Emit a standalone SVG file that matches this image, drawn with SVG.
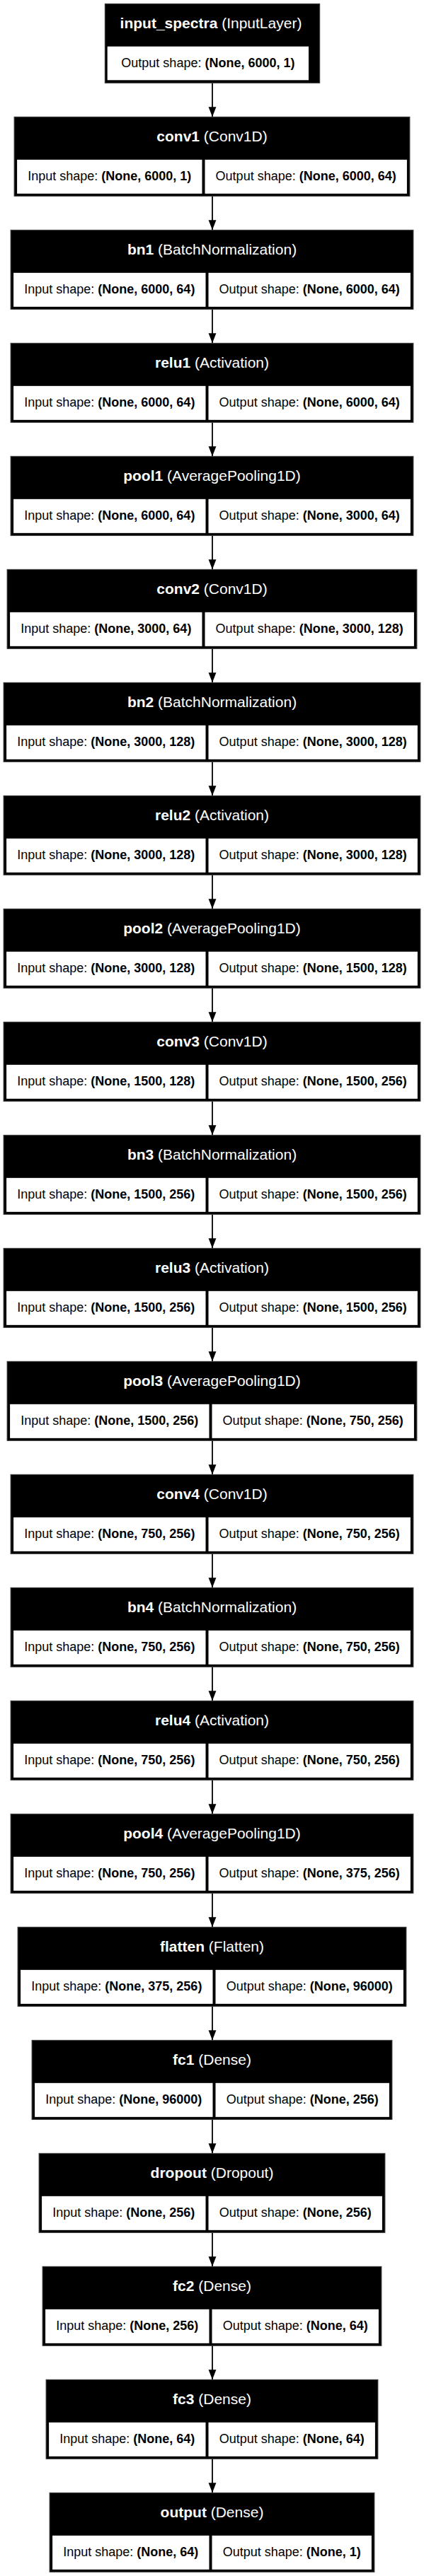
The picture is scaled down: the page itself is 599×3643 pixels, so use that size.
<svg xmlns="http://www.w3.org/2000/svg" width="599" height="3643" viewBox="0 0 599 3643">
<style>
.bg{fill:#fff}
.box{fill:#000;stroke:#3a3a3a;stroke-width:1}
.cell{fill:#fff}
text{font-family:"Liberation Sans",Arial,sans-serif}
.hd{font-size:21px;fill:#fff;text-anchor:middle}
.tx{font-size:18px;fill:#000;text-anchor:middle}
.b{font-weight:bold}
.edge{stroke:#000;stroke-width:1.8;fill:none;marker-end:url(#ah)}
</style>
<defs>
<marker id="ah" viewBox="0 0 14 12" refX="14" refY="6" markerWidth="14" markerHeight="12" markerUnits="userSpaceOnUse" orient="auto">
<path d="M0,0.6 L14,6 L0,11.4 z" fill="#000"/>
</marker>
</defs>
<rect class="bg" x="0" y="0" width="599" height="3643"/>

<g id="edges">
<path class="edge" d="M300,117.33 V165.33"/>
<path class="edge" d="M300,277.33 V325.33"/>
<path class="edge" d="M300,437.33 V485.33"/>
<path class="edge" d="M300,597.33 V645.33"/>
<path class="edge" d="M300,757.33 V805.33"/>
<path class="edge" d="M300,917.33 V965.33"/>
<path class="edge" d="M300,1077.33 V1125.33"/>
<path class="edge" d="M300,1237.33 V1285.33"/>
<path class="edge" d="M300,1397.33 V1445.33"/>
<path class="edge" d="M300,1557.33 V1605.33"/>
<path class="edge" d="M300,1717.33 V1765.33"/>
<path class="edge" d="M300,1877.33 V1925.33"/>
<path class="edge" d="M300,2037.33 V2085.33"/>
<path class="edge" d="M300,2197.33 V2245.33"/>
<path class="edge" d="M300,2357.33 V2405.33"/>
<path class="edge" d="M300,2517.33 V2565.33"/>
<path class="edge" d="M300,2677.33 V2725.33"/>
<path class="edge" d="M300,2837.33 V2885.33"/>
<path class="edge" d="M300,2997.33 V3045.33"/>
<path class="edge" d="M300,3157.33 V3205.33"/>
<path class="edge" d="M300,3317.33 V3365.33"/>
<path class="edge" d="M300,3477.33 V3525.33"/>
</g>

<g id="input_spectra" transform="translate(0,5.33)">
<rect class="box" x="148.3" y="0" width="303.4" height="112"/>
<rect class="cell" x="151.7" y="60.4" width="284.3" height="47.6"/>
<text class="hd" x="298" y="35"><tspan class="b">input_spectra</tspan> (InputLayer)</text>
<text class="tx" x="293.9" y="90">Output shape: <tspan class="b">(None, 6000, 1)</tspan></text>
</g>

<g id="conv1" transform="translate(0,165.33)">
<rect class="box" x="20.1" y="0" width="558.8" height="112"/>
<rect class="cell" x="24.1" y="60.5" width="261.4" height="48"/>
<rect class="cell" x="289.5" y="60.5" width="285.4" height="48"/>
<text class="hd" x="299.5" y="35"><tspan class="b">conv1</tspan> (Conv1D)</text>
<text class="tx" x="154.8" y="89.5">Input shape: <tspan class="b">(None, 6000, 1)</tspan></text>
<text class="tx" x="432.2" y="89.5">Output shape: <tspan class="b">(None, 6000, 64)</tspan></text>
</g>

<g id="bn1" transform="translate(0,325.33)">
<rect class="box" x="15.1" y="0" width="568.8" height="112"/>
<rect class="cell" x="19.1" y="60.5" width="271.4" height="48"/>
<rect class="cell" x="294.5" y="60.5" width="285.4" height="48"/>
<text class="hd" x="299.5" y="35"><tspan class="b">bn1</tspan> (BatchNormalization)</text>
<text class="tx" x="154.8" y="89.5">Input shape: <tspan class="b">(None, 6000, 64)</tspan></text>
<text class="tx" x="437.2" y="89.5">Output shape: <tspan class="b">(None, 6000, 64)</tspan></text>
</g>

<g id="relu1" transform="translate(0,485.33)">
<rect class="box" x="15.1" y="0" width="568.8" height="112"/>
<rect class="cell" x="19.1" y="60.5" width="271.4" height="48"/>
<rect class="cell" x="294.5" y="60.5" width="285.4" height="48"/>
<text class="hd" x="299.5" y="35"><tspan class="b">relu1</tspan> (Activation)</text>
<text class="tx" x="154.8" y="89.5">Input shape: <tspan class="b">(None, 6000, 64)</tspan></text>
<text class="tx" x="437.2" y="89.5">Output shape: <tspan class="b">(None, 6000, 64)</tspan></text>
</g>

<g id="pool1" transform="translate(0,645.33)">
<rect class="box" x="15.1" y="0" width="568.8" height="112"/>
<rect class="cell" x="19.1" y="60.5" width="271.4" height="48"/>
<rect class="cell" x="294.5" y="60.5" width="285.4" height="48"/>
<text class="hd" x="299.5" y="35"><tspan class="b">pool1</tspan> (AveragePooling1D)</text>
<text class="tx" x="154.8" y="89.5">Input shape: <tspan class="b">(None, 6000, 64)</tspan></text>
<text class="tx" x="437.2" y="89.5">Output shape: <tspan class="b">(None, 3000, 64)</tspan></text>
</g>

<g id="conv2" transform="translate(0,805.33)">
<rect class="box" x="10.1" y="0" width="578.8" height="112"/>
<rect class="cell" x="14.1" y="60.5" width="271.4" height="48"/>
<rect class="cell" x="289.5" y="60.5" width="295.4" height="48"/>
<text class="hd" x="299.5" y="35"><tspan class="b">conv2</tspan> (Conv1D)</text>
<text class="tx" x="149.8" y="89.5">Input shape: <tspan class="b">(None, 3000, 64)</tspan></text>
<text class="tx" x="437.2" y="89.5">Output shape: <tspan class="b">(None, 3000, 128)</tspan></text>
</g>

<g id="bn2" transform="translate(0,965.33)">
<rect class="box" x="5.1" y="0" width="588.8" height="112"/>
<rect class="cell" x="9.1" y="60.5" width="281.4" height="48"/>
<rect class="cell" x="294.5" y="60.5" width="295.4" height="48"/>
<text class="hd" x="299.5" y="35"><tspan class="b">bn2</tspan> (BatchNormalization)</text>
<text class="tx" x="149.8" y="89.5">Input shape: <tspan class="b">(None, 3000, 128)</tspan></text>
<text class="tx" x="442.2" y="89.5">Output shape: <tspan class="b">(None, 3000, 128)</tspan></text>
</g>

<g id="relu2" transform="translate(0,1125.33)">
<rect class="box" x="5.1" y="0" width="588.8" height="112"/>
<rect class="cell" x="9.1" y="60.5" width="281.4" height="48"/>
<rect class="cell" x="294.5" y="60.5" width="295.4" height="48"/>
<text class="hd" x="299.5" y="35"><tspan class="b">relu2</tspan> (Activation)</text>
<text class="tx" x="149.8" y="89.5">Input shape: <tspan class="b">(None, 3000, 128)</tspan></text>
<text class="tx" x="442.2" y="89.5">Output shape: <tspan class="b">(None, 3000, 128)</tspan></text>
</g>

<g id="pool2" transform="translate(0,1285.33)">
<rect class="box" x="5.1" y="0" width="588.8" height="112"/>
<rect class="cell" x="9.1" y="60.5" width="281.4" height="48"/>
<rect class="cell" x="294.5" y="60.5" width="295.4" height="48"/>
<text class="hd" x="299.5" y="35"><tspan class="b">pool2</tspan> (AveragePooling1D)</text>
<text class="tx" x="149.8" y="89.5">Input shape: <tspan class="b">(None, 3000, 128)</tspan></text>
<text class="tx" x="442.2" y="89.5">Output shape: <tspan class="b">(None, 1500, 128)</tspan></text>
</g>

<g id="conv3" transform="translate(0,1445.33)">
<rect class="box" x="5.1" y="0" width="588.8" height="112"/>
<rect class="cell" x="9.1" y="60.5" width="281.4" height="48"/>
<rect class="cell" x="294.5" y="60.5" width="295.4" height="48"/>
<text class="hd" x="299.5" y="35"><tspan class="b">conv3</tspan> (Conv1D)</text>
<text class="tx" x="149.8" y="89.5">Input shape: <tspan class="b">(None, 1500, 128)</tspan></text>
<text class="tx" x="442.2" y="89.5">Output shape: <tspan class="b">(None, 1500, 256)</tspan></text>
</g>

<g id="bn3" transform="translate(0,1605.33)">
<rect class="box" x="5.1" y="0" width="588.8" height="112"/>
<rect class="cell" x="9.1" y="60.5" width="281.4" height="48"/>
<rect class="cell" x="294.5" y="60.5" width="295.4" height="48"/>
<text class="hd" x="299.5" y="35"><tspan class="b">bn3</tspan> (BatchNormalization)</text>
<text class="tx" x="149.8" y="89.5">Input shape: <tspan class="b">(None, 1500, 256)</tspan></text>
<text class="tx" x="442.2" y="89.5">Output shape: <tspan class="b">(None, 1500, 256)</tspan></text>
</g>

<g id="relu3" transform="translate(0,1765.33)">
<rect class="box" x="5.1" y="0" width="588.8" height="112"/>
<rect class="cell" x="9.1" y="60.5" width="281.4" height="48"/>
<rect class="cell" x="294.5" y="60.5" width="295.4" height="48"/>
<text class="hd" x="299.5" y="35"><tspan class="b">relu3</tspan> (Activation)</text>
<text class="tx" x="149.8" y="89.5">Input shape: <tspan class="b">(None, 1500, 256)</tspan></text>
<text class="tx" x="442.2" y="89.5">Output shape: <tspan class="b">(None, 1500, 256)</tspan></text>
</g>

<g id="pool3" transform="translate(0,1925.33)">
<rect class="box" x="10.1" y="0" width="578.8" height="112"/>
<rect class="cell" x="14.1" y="60.5" width="281.4" height="48"/>
<rect class="cell" x="299.5" y="60.5" width="285.4" height="48"/>
<text class="hd" x="299.5" y="35"><tspan class="b">pool3</tspan> (AveragePooling1D)</text>
<text class="tx" x="154.8" y="89.5">Input shape: <tspan class="b">(None, 1500, 256)</tspan></text>
<text class="tx" x="442.2" y="89.5">Output shape: <tspan class="b">(None, 750, 256)</tspan></text>
</g>

<g id="conv4" transform="translate(0,2085.33)">
<rect class="box" x="15.1" y="0" width="568.8" height="112"/>
<rect class="cell" x="19.1" y="60.5" width="271.4" height="48"/>
<rect class="cell" x="294.5" y="60.5" width="285.4" height="48"/>
<text class="hd" x="299.5" y="35"><tspan class="b">conv4</tspan> (Conv1D)</text>
<text class="tx" x="154.8" y="89.5">Input shape: <tspan class="b">(None, 750, 256)</tspan></text>
<text class="tx" x="437.2" y="89.5">Output shape: <tspan class="b">(None, 750, 256)</tspan></text>
</g>

<g id="bn4" transform="translate(0,2245.33)">
<rect class="box" x="15.1" y="0" width="568.8" height="112"/>
<rect class="cell" x="19.1" y="60.5" width="271.4" height="48"/>
<rect class="cell" x="294.5" y="60.5" width="285.4" height="48"/>
<text class="hd" x="299.5" y="35"><tspan class="b">bn4</tspan> (BatchNormalization)</text>
<text class="tx" x="154.8" y="89.5">Input shape: <tspan class="b">(None, 750, 256)</tspan></text>
<text class="tx" x="437.2" y="89.5">Output shape: <tspan class="b">(None, 750, 256)</tspan></text>
</g>

<g id="relu4" transform="translate(0,2405.33)">
<rect class="box" x="15.1" y="0" width="568.8" height="112"/>
<rect class="cell" x="19.1" y="60.5" width="271.4" height="48"/>
<rect class="cell" x="294.5" y="60.5" width="285.4" height="48"/>
<text class="hd" x="299.5" y="35"><tspan class="b">relu4</tspan> (Activation)</text>
<text class="tx" x="154.8" y="89.5">Input shape: <tspan class="b">(None, 750, 256)</tspan></text>
<text class="tx" x="437.2" y="89.5">Output shape: <tspan class="b">(None, 750, 256)</tspan></text>
</g>

<g id="pool4" transform="translate(0,2565.33)">
<rect class="box" x="15.1" y="0" width="568.8" height="112"/>
<rect class="cell" x="19.1" y="60.5" width="271.4" height="48"/>
<rect class="cell" x="294.5" y="60.5" width="285.4" height="48"/>
<text class="hd" x="299.5" y="35"><tspan class="b">pool4</tspan> (AveragePooling1D)</text>
<text class="tx" x="154.8" y="89.5">Input shape: <tspan class="b">(None, 750, 256)</tspan></text>
<text class="tx" x="437.2" y="89.5">Output shape: <tspan class="b">(None, 375, 256)</tspan></text>
</g>

<g id="flatten" transform="translate(0,2725.33)">
<rect class="box" x="25.1" y="0" width="548.8" height="112"/>
<rect class="cell" x="29.1" y="60.5" width="271.4" height="48"/>
<rect class="cell" x="304.5" y="60.5" width="265.4" height="48"/>
<text class="hd" x="299.5" y="35"><tspan class="b">flatten</tspan> (Flatten)</text>
<text class="tx" x="164.8" y="89.5">Input shape: <tspan class="b">(None, 375, 256)</tspan></text>
<text class="tx" x="437.2" y="89.5">Output shape: <tspan class="b">(None, 96000)</tspan></text>
</g>

<g id="fc1" transform="translate(0,2885.33)">
<rect class="box" x="45.1" y="0" width="508.8" height="112"/>
<rect class="cell" x="49.1" y="60.5" width="251.4" height="48"/>
<rect class="cell" x="304.5" y="60.5" width="245.4" height="48"/>
<text class="hd" x="299.5" y="35"><tspan class="b">fc1</tspan> (Dense)</text>
<text class="tx" x="174.8" y="89.5">Input shape: <tspan class="b">(None, 96000)</tspan></text>
<text class="tx" x="427.2" y="89.5">Output shape: <tspan class="b">(None, 256)</tspan></text>
</g>

<g id="dropout" transform="translate(0,3045.33)">
<rect class="box" x="55.1" y="0" width="488.8" height="112"/>
<rect class="cell" x="59.1" y="60.5" width="231.4" height="48"/>
<rect class="cell" x="294.5" y="60.5" width="245.4" height="48"/>
<text class="hd" x="299.5" y="35"><tspan class="b">dropout</tspan> (Dropout)</text>
<text class="tx" x="174.8" y="89.5">Input shape: <tspan class="b">(None, 256)</tspan></text>
<text class="tx" x="417.2" y="89.5">Output shape: <tspan class="b">(None, 256)</tspan></text>
</g>

<g id="fc2" transform="translate(0,3205.33)">
<rect class="box" x="60.1" y="0" width="478.8" height="112"/>
<rect class="cell" x="64.1" y="60.5" width="231.4" height="48"/>
<rect class="cell" x="299.5" y="60.5" width="235.4" height="48"/>
<text class="hd" x="299.5" y="35"><tspan class="b">fc2</tspan> (Dense)</text>
<text class="tx" x="179.8" y="89.5">Input shape: <tspan class="b">(None, 256)</tspan></text>
<text class="tx" x="417.2" y="89.5">Output shape: <tspan class="b">(None, 64)</tspan></text>
</g>

<g id="fc3" transform="translate(0,3365.33)">
<rect class="box" x="65.1" y="0" width="468.8" height="112"/>
<rect class="cell" x="69.1" y="60.5" width="221.4" height="48"/>
<rect class="cell" x="294.5" y="60.5" width="235.4" height="48"/>
<text class="hd" x="299.5" y="35"><tspan class="b">fc3</tspan> (Dense)</text>
<text class="tx" x="179.8" y="89.5">Input shape: <tspan class="b">(None, 64)</tspan></text>
<text class="tx" x="412.2" y="89.5">Output shape: <tspan class="b">(None, 64)</tspan></text>
</g>

<g id="output" transform="translate(0,3525.33)">
<rect class="box" x="70.1" y="0" width="458.8" height="112"/>
<rect class="cell" x="74.1" y="60.5" width="221.4" height="48"/>
<rect class="cell" x="299.5" y="60.5" width="225.4" height="48"/>
<text class="hd" x="299.5" y="35"><tspan class="b">output</tspan> (Dense)</text>
<text class="tx" x="184.8" y="89.5">Input shape: <tspan class="b">(None, 64)</tspan></text>
<text class="tx" x="412.2" y="89.5">Output shape: <tspan class="b">(None, 1)</tspan></text>
</g>
</svg>
